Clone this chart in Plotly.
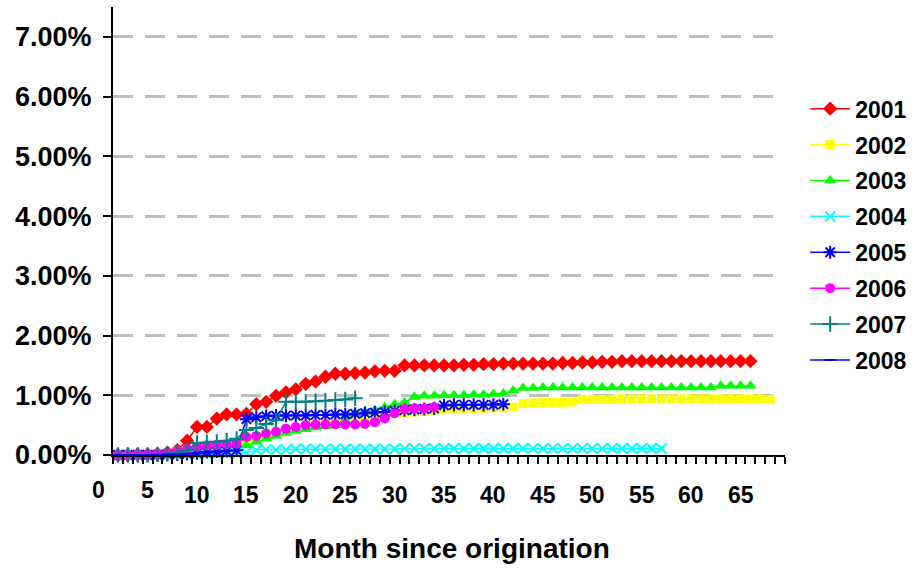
import plotly.graph_objects as go

# ---------------- data (cumulative default rate, % ) ----------------
years = ["2001", "2002", "2003", "2004", "2005", "2006", "2007", "2008"]
first_month = 2

s2001 = [0.00, 0.00, 0.01, 0.01, 0.02, 0.04, 0.08,
         0.24, 0.47, 0.47, 0.61, 0.68, 0.68, 0.69, 0.85, 0.89, 0.99, 1.05,
         1.10, 1.19, 1.23, 1.31, 1.36, 1.36, 1.37, 1.38, 1.40, 1.41, 1.41,
         1.50, 1.50, 1.50, 1.50, 1.50, 1.50, 1.51, 1.51, 1.52, 1.52,
         1.53, 1.53, 1.53, 1.53, 1.53, 1.53, 1.54, 1.54, 1.55, 1.55,
         1.56, 1.56, 1.57, 1.57, 1.57, 1.57, 1.57, 1.57, 1.57, 1.57,
         1.57, 1.57, 1.57, 1.57, 1.57, 1.57]
s2002 = [0.00, 0.00, 0.00, 0.01, 0.01, 0.02, 0.03, 0.04, 0.06,
         0.08, 0.10, 0.12, 0.15, 0.22, 0.30, 0.34, 0.38, 0.42, 0.46,
         0.50, 0.52, 0.54, 0.56, 0.58, 0.60, 0.62, 0.64, 0.66, 0.70,
         0.71, 0.72, 0.73, 0.75, 0.77, 0.77, 0.78, 0.78, 0.78, 0.79,
         0.79, 0.80, 0.86, 0.87, 0.88, 0.88, 0.88, 0.89, 0.93, 0.93,
         0.93, 0.93, 0.94, 0.94, 0.94, 0.94, 0.94, 0.94, 0.94, 0.94,
         0.94, 0.94, 0.94, 0.94, 0.94, 0.94, 0.94, 0.93]
s2003 = [0.00, 0.00, 0.00, 0.00, 0.01, 0.01, 0.02, 0.03, 0.04,
         0.05, 0.07, 0.09, 0.12, 0.16, 0.22, 0.27, 0.32, 0.37, 0.40,
         0.43, 0.46, 0.48, 0.50, 0.58, 0.70, 0.73, 0.75, 0.80, 0.85,
         0.88, 0.97, 0.99, 0.99, 1.00, 1.00, 1.00, 1.01, 1.01, 1.02,
         1.03, 1.08, 1.12, 1.12, 1.13, 1.13, 1.13, 1.13, 1.13, 1.13,
         1.13, 1.13, 1.13, 1.13, 1.13, 1.13, 1.13, 1.13, 1.13, 1.13,
         1.13, 1.13, 1.16, 1.16, 1.16, 1.16]
s2004 = [0.00, 0.00, 0.00, 0.00, 0.00, 0.00, 0.01, 0.01, 0.01,
         0.01, 0.01, 0.02, 0.02, 0.04, 0.08, 0.09, 0.09, 0.09, 0.10,
         0.10, 0.10, 0.10, 0.10, 0.10, 0.10, 0.10, 0.10, 0.10, 0.10,
         0.11, 0.11, 0.11, 0.11, 0.11, 0.11, 0.11, 0.11, 0.11, 0.11,
         0.11, 0.11, 0.11, 0.11, 0.11, 0.11, 0.11, 0.11, 0.11, 0.11,
         0.11, 0.11, 0.11, 0.11, 0.11, 0.11, 0.11]
s2005 = [0.00, 0.00, 0.00, 0.00, 0.00, 0.01, 0.01, 0.02, 0.03,
         0.05, 0.06, 0.07, 0.08, 0.60, 0.63, 0.65, 0.66, 0.66, 0.66,
         0.66, 0.67, 0.67, 0.68, 0.68, 0.69, 0.70, 0.71, 0.72, 0.74,
         0.75, 0.76, 0.77, 0.78, 0.83, 0.84, 0.84, 0.84, 0.84, 0.84,
         0.85]
s2006 = [0.00, 0.00, 0.01, 0.01, 0.02, 0.03, 0.07, 0.10, 0.14,
         0.16, 0.17, 0.18, 0.19, 0.30, 0.32, 0.36, 0.39, 0.44, 0.47,
         0.50, 0.51, 0.51, 0.51, 0.51, 0.51, 0.52, 0.55, 0.61, 0.70,
         0.77, 0.78, 0.78, 0.80]
s2007 = [0.00, 0.00, 0.00, 0.00, 0.01, 0.02, 0.04, 0.08, 0.20,
         0.21, 0.22, 0.24, 0.27, 0.42, 0.45, 0.52, 0.58, 0.89, 0.89,
         0.89, 0.90, 0.91, 0.92, 0.93, 0.95]
s2008 = [0.00, 0.00, 0.00, 0.00, 0.00, 0.01, 0.01, 0.02, 0.03,
         0.04, 0.05]

series = [s2001, s2002, s2003, s2004, s2005, s2006, s2007, s2008]

x_tick_labels = [0, 5, 10, 15, 20, 25, 30, 35, 40, 45, 50, 55, 60, 65]
x_title = "Month since origination"

# ---------------- styles ----------------
colors = ["#FF0000", "#FFFF00", "#00FF00", "#00FFFF", "#0000FF",
          "#FF00FF", "#008080", "#0000FF"]
symbols = ["diamond", "square", "triangle-up", "x-thin-open",
           "asterisk-open", "circle", "cross-thin-open", "line-ew-open"]
msizes = [11, 9, 11, 10, 11, 10, 11, 8]

FONT = "Liberation Sans, Arial, sans-serif"
X_MIN, X_MAX = 1.5, 69.5

fig = go.Figure()
for name, vals, col, sym, ms in zip(years, series, colors, symbols, msizes):
    months = list(range(first_month, first_month + len(vals)))
    fig.add_trace(go.Scatter(
        x=months, y=vals, mode="lines+markers", name=name,
        legendgroup=name,
        line=dict(color=col, width=1.5),
        marker=dict(symbol=sym, size=ms, color=col,
                    line=dict(color=col, width=2 if "open" in sym else 0)),
        cliponaxis=False,
    ))

# category-style labels of the month axis (placed through the axis scale)
for v in x_tick_labels:
    fig.add_annotation(
        x=(v - X_MIN) / (X_MAX - X_MIN), y=0, xref="paper", yref="paper",
        yanchor="middle", xanchor="center",
        yshift=-35 if v < 10 else -40,
        text=str(v), showarrow=False,
        font=dict(family=FONT, size=23, color="black", weight="bold"),
    )

fig.add_annotation(
    x=0.504, y=0, xref="paper", yref="paper", yshift=-93,
    yanchor="middle", xanchor="center",
    text=x_title, showarrow=False,
    font=dict(family=FONT, size=28, color="black", weight="bold"),
)

fig.update_layout(
    width=915, height=568,
    margin=dict(l=113, r=130, t=7, b=113, pad=0, autoexpand=False),
    paper_bgcolor="white", plot_bgcolor="white",
    showlegend=True,
    legend=dict(
        x=1.03, xanchor="left", y=0.821, yanchor="top",
        font=dict(family=FONT, size=23, color="black", weight="bold"),
        tracegroupgap=3, itemwidth=40,
        bgcolor="rgba(0,0,0,0)",
    ),
    xaxis=dict(
        range=[X_MIN, X_MAX], showgrid=False, zeroline=False,
        showline=True, linecolor="black", linewidth=2,
        ticks="outside", tick0=X_MIN, dtick=1, ticklen=7, tickwidth=1.5,
        tickcolor="black", showticklabels=False,
    ),
    yaxis=dict(
        range=[0, 7.5], dtick=1, tick0=0,
        showgrid=True, gridcolor="#BFBFBF", gridwidth=3, griddash="20px,12px",
        zeroline=False, showline=True, linecolor="black", linewidth=2,
        ticks="outside", ticklen=8, tickwidth=2, tickcolor="black",
        tickformat=".2f", ticksuffix="%", ticklabelstandoff=6,
        tickfont=dict(family=FONT, size=27, color="black", weight="bold"),
    ),
)

fig.write_html("out.html", config={"displayModeBar": False},
               post_script="document.body.style.margin='0';document.body.style.overflow='hidden';")
